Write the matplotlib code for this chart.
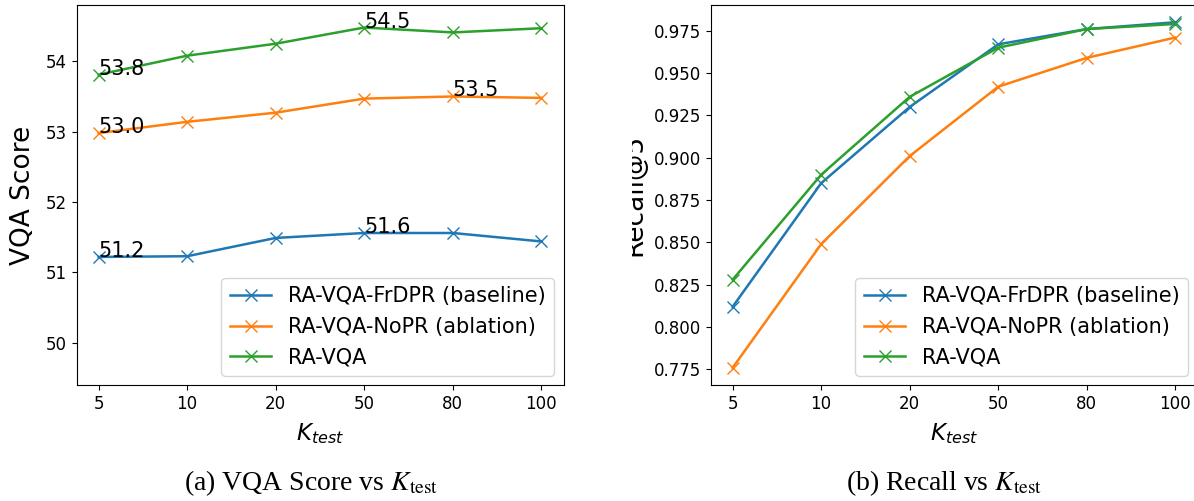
import matplotlib
matplotlib.use("Agg")
import matplotlib.pyplot as plt
from matplotlib.transforms import Bbox
import numpy as np

# Retrieval depth used at test time
k_test = ["5", "10", "20", "50", "80", "100"]
series_names = ["RA-VQA-FrDPR (baseline)", "RA-VQA-NoPR (ablation)", "RA-VQA"]
colors = ["#1f77b4", "#ff7f0e", "#2ca02c"]

# VQA score per K_test
vqa_frdpr = [51.22, 51.23, 51.49, 51.56, 51.56, 51.44]
vqa_nopr = [52.98, 53.14, 53.27, 53.47, 53.50, 53.48]
vqa_ravqa = [53.81, 54.08, 54.25, 54.48, 54.41, 54.47]

# Recall per K_test
rec_frdpr = [0.812, 0.885, 0.930, 0.967, 0.976, 0.980]
rec_nopr = [0.776, 0.849, 0.901, 0.942, 0.959, 0.971]
rec_ravqa = [0.828, 0.890, 0.936, 0.965, 0.976, 0.979]

W, H = 1194, 501
fig = plt.figure(figsize=(W / 100, H / 100), dpi=100)

TICK_FS = 12
LEG_FS = 15
ANN_FS = 15

def px_axes(x0, y0, x1, y1):
    return fig.add_axes([x0 / W, 1 - y1 / H, (x1 - x0) / W, (y1 - y0) / H])

ax1 = px_axes(76.5, 5, 563.5, 385)
ax2 = px_axes(710.5, 5, 1197.5, 385)

xs = np.arange(len(k_test))

# Panel (a): VQA score
for name, vals, c in zip(series_names, [vqa_frdpr, vqa_nopr, vqa_ravqa], colors):
    ax1.plot(xs, vals, marker="x", color=c, label=name, markersize=8, linewidth=1.8)
    i_max = int(np.argmax(vals))
    for i in sorted({0, i_max}):
        ax1.text(xs[i], vals[i], f"{vals[i]:.1f}", fontsize=ANN_FS)
ax1.set_ylim(49.4, 54.8)
ax1.set_ylabel("VQA Score", fontsize=19, labelpad=7)

# Panel (b): recall
for name, vals, c in zip(series_names, [rec_frdpr, rec_nopr, rec_ravqa], colors):
    ax2.plot(xs, vals, marker="x", color=c, label=name, markersize=8, linewidth=1.8)

for ax in (ax1, ax2):
    ax.set_xticks(xs)
    ax.set_xticklabels(k_test)
    ax.tick_params(labelsize=TICK_FS)
    ax.set_xlabel("$K_{test}$", fontsize=16.5, labelpad=6)
    ax.legend(loc="lower right", fontsize=LEG_FS, labelspacing=0.5,
              borderaxespad=0.45)

# y label of panel (b), partly cut off by the panel's left boundary
lab = fig.text(641 / W, 1 - 195 / H, "Recall@5", rotation=90, rotation_mode="anchor",
               ha="center", va="baseline", fontsize=19)
lab.set_clip_box(Bbox.from_extents(632, 0, W, H))
lab.set_clip_on(True)

# Captions
fig.text(311 / W, 1 - 490 / H, r"(a) VQA Score vs $K_{\mathrm{test}}$", ha="center",
         va="baseline", family="Liberation Serif", math_fontfamily="stix", fontsize=20)
fig.text(944 / W, 1 - 490 / H, r"(b) Recall vs $K_{\mathrm{test}}$", ha="center",
         va="baseline", family="Liberation Serif", math_fontfamily="stix", fontsize=20)

fig.savefig("out.png", dpi=100)
